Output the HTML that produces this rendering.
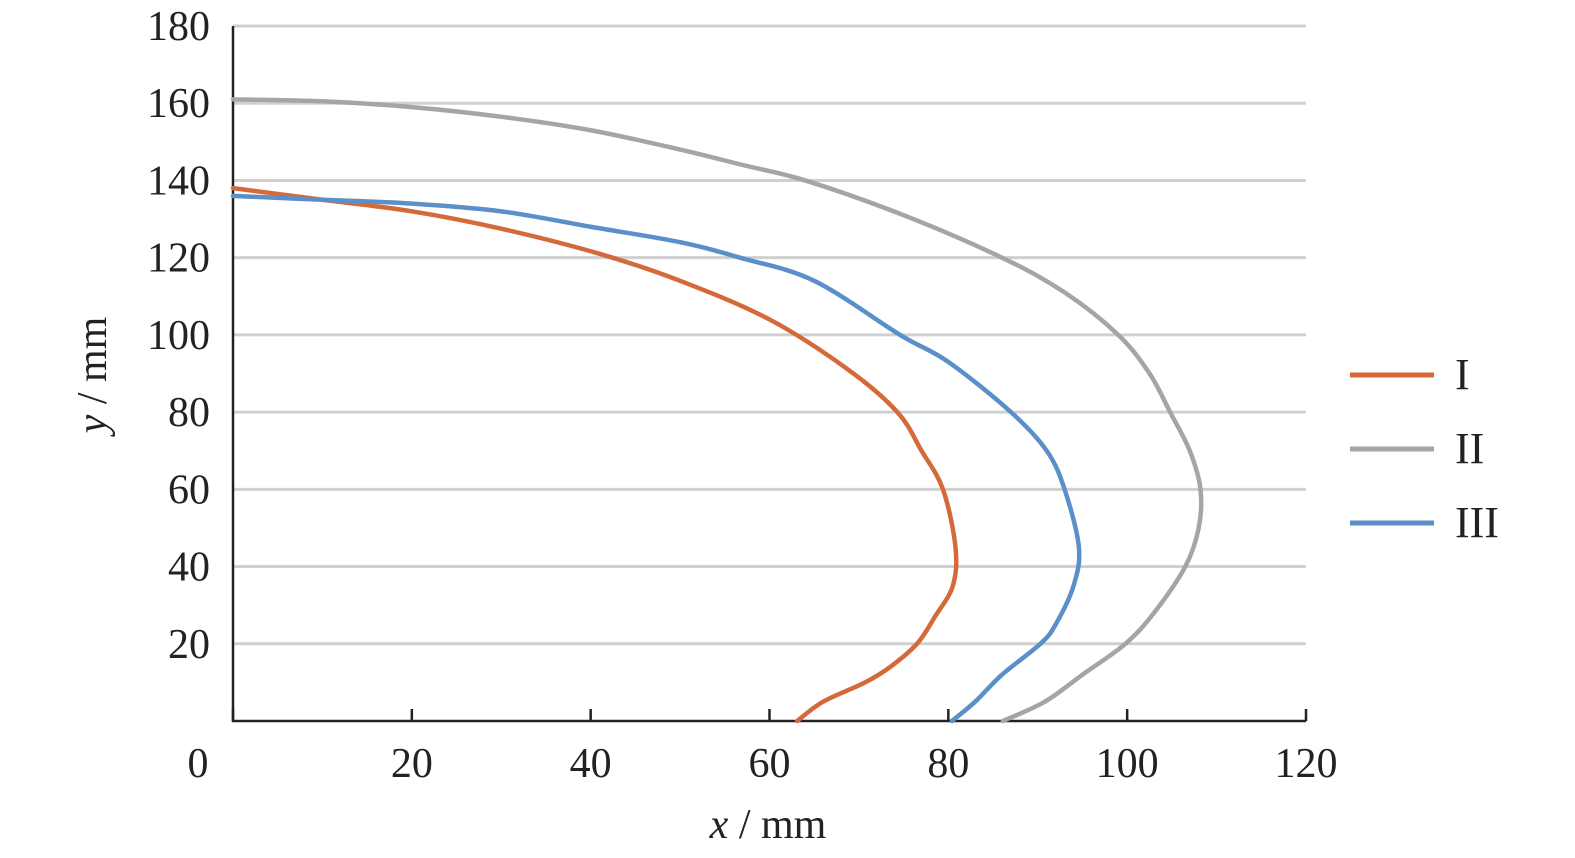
<!DOCTYPE html>
<html><head><meta charset="utf-8"><style>
html,body{margin:0;padding:0;background:#fff}
svg{display:block;font-family:"Liberation Serif",serif}
</style></head><body>
<svg id="chart" width="1575" height="858" viewBox="0 0 1575 858" xmlns="http://www.w3.org/2000/svg">
<g id="grid"></g>
<g id="axes"></g>
<g id="series"></g>
<g id="legend"></g>
<text x="768" y="838" font-size="42" text-anchor="middle" fill="#222"><tspan font-style="italic">x</tspan> / mm</text>
<text transform="translate(106,375) rotate(-90)" font-size="42" text-anchor="middle" fill="#222"><tspan font-style="italic">y</tspan> / mm</text>
</svg>
<script>
const xTicks=[0,20,40,60,80,100,120];
const yTicks=[20,40,60,80,100,120,140,160,180];
const seriesNames=["I","II","III"];
const seriesColors=["#d4693a","#a5a5a5","#5b8fc9"];
const s1x=[0,10,20,30,41,50,60,68.8,74.3,77,79.4,80.8,80.5,78.5,76.5,73.5,70.7,66,63.1];
const s1y=[138,135,132,127.5,121,114,104,91,80,70,60,45,35,27,20,14,10,5,0];
const s2x=[0,10,20,30,40,50,57,64,75,86,93,99,102.5,104.8,107,108.2,108,106.5,103,99.8,95,90.8,86.1];
const s2y=[161,160.5,159,156.5,153,148,144,140,131,120,111,100,90,80,70,60,50,40,28,20,12,5,0];
const s3x=[0,10,20,30,40,50,56.7,65,74.6,80,87,91,93,94.6,94,92,90.3,86,83,80.4];
const s3y=[136,135,134,132,128,124,120,114,100,93,80,70,60,45,35,25,20,12,5,0];
const NS="http://www.w3.org/2000/svg";
const X0=233,X1=1306,Y0=721,Y1=26;
const sx=v=>X0+(v-0)/(120)*(X1-X0);
const sy=v=>Y0-(v-0)/(180)*(Y0-Y1);
function mk(t,a,p){const e=document.createElementNS(NS,t);for(const k in a)e.setAttribute(k,a[k]);p.appendChild(e);return e;}
function smooth(P){let d=`M${P[0][0]},${P[0][1]}`;for(let i=0;i<P.length-1;i++){const p0=P[Math.max(0,i-1)],p1=P[i],p2=P[i+1],p3=P[Math.min(P.length-1,i+2)];
const c1=[p1[0]+(p2[0]-p0[0])/6,p1[1]+(p2[1]-p0[1])/6],c2=[p2[0]-(p3[0]-p1[0])/6,p2[1]-(p3[1]-p1[1])/6];
d+=` C${c1[0]},${c1[1]} ${c2[0]},${c2[1]} ${p2[0]},${p2[1]}`;}return d;}
const grid=document.getElementById('grid'),axes=document.getElementById('axes'),ser=document.getElementById('series'),leg=document.getElementById('legend');
yTicks.forEach(v=>{
 const l=mk('line',{x1:X0,x2:X1,y1:sy(v),y2:sy(v),stroke:'#d0d0d0','stroke-width':3},grid);
 
 
 const t=mk('text',{x:210,y:sy(v)+14,'font-size':42,'text-anchor':'end',fill:'#222'},axes);
 t.textContent=v;
 
 
});
const ax=mk('path',{d:`M${X0},${Y1} V${Y0} H${X1}`,fill:'none',stroke:'#222','stroke-width':2.5},axes);


xTicks.forEach(v=>{
 const tk=mk('line',{x1:sx(v),x2:sx(v),y1:Y0,y2:Y0-12,stroke:'#222','stroke-width':2.5},axes);
 
 
 const t=mk('text',{x:v===0?198:sx(v),y:777,'font-size':42,'text-anchor':'middle',fill:'#222'},axes);
 t.textContent=v;
 
 
});
[[s1x,s1y],[s2x,s2y],[s3x,s3y]].forEach((s,i)=>{
 const P=s[0].map((x,j)=>[sx(x),sy(s[1][j])]);
 const p=mk('path',{d:smooth(P),fill:'none',stroke:seriesColors[i],'stroke-width':4.5,'stroke-linejoin':'round','stroke-linecap':'round'},ser);
 
 
 const ly=375+i*74;
 const ll=mk('line',{x1:1350,x2:1434,y1:ly,y2:ly,stroke:seriesColors[i],'stroke-width':5},leg);
 
 
 const lt=mk('text',{x:1455,y:ly+14,'font-size':44,fill:'#222'},leg);
 lt.textContent=seriesNames[i];
 
 
});
</script>
</body></html>
